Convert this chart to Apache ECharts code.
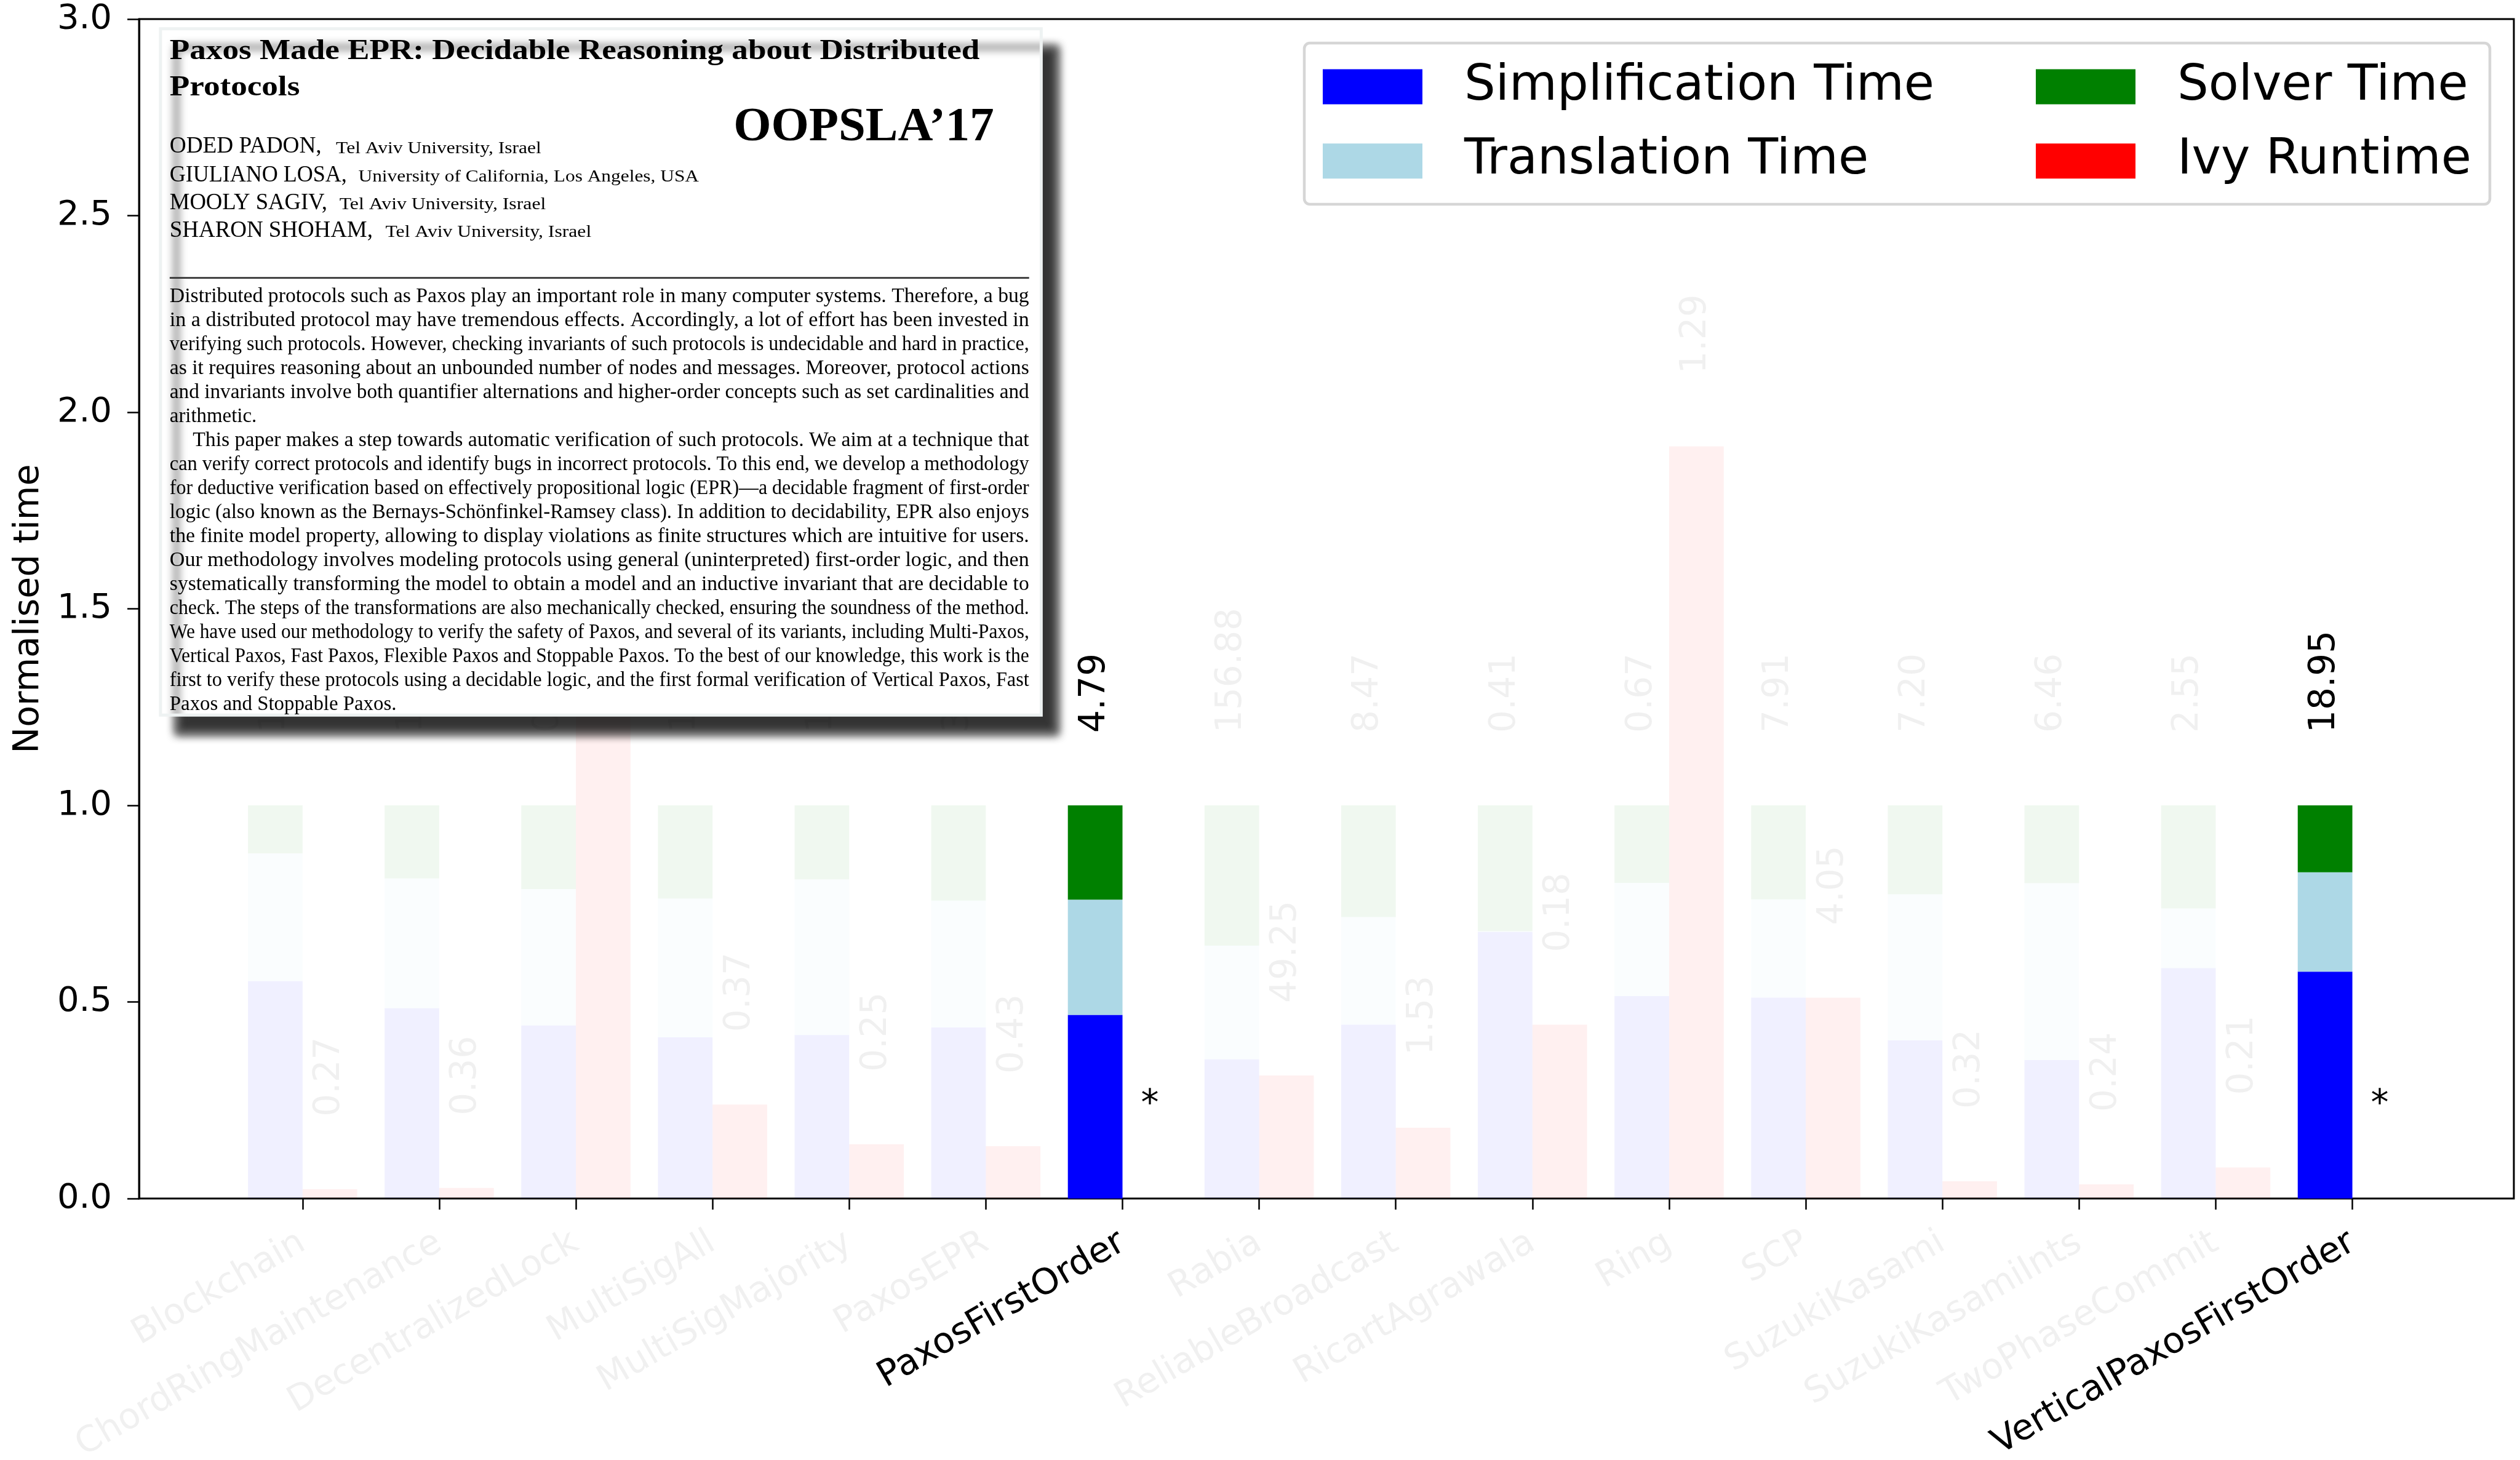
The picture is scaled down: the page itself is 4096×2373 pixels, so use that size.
<!DOCTYPE html>
<html>
<head>
<meta charset="utf-8">
<title>Normalised time</title>
<script src="https://cdn.jsdelivr.net/npm/echarts@6/dist/echarts.min.js"></script>
<style>
  html, body { margin: 0; padding: 0; background: #fff; }
  #chart { width: 4096px; height: 2373px; }
</style>
</head>
<body>
<div id="chart"></div>
<script>
// ---- data ----
const categories = ['Blockchain', 'ChordRingMaintenance', 'DecentralizedLock', 'MultiSigAll',
  'MultiSigMajority', 'PaxosEPR', 'PaxosFirstOrder', 'Rabia', 'ReliableBroadcast',
  'RicartAgrawala', 'Ring', 'SCP', 'SuzukiKasami', 'SuzukiKasamiInts', 'TwoPhaseCommit',
  'VerticalPaxosFirstOrder'];
const highlighted = [false, false, false, false, false, false, true, false, false,
  false, false, false, false, false, false, true];

// stacked shares of the tool's time (sum to 1)
const simplificationTime = [0.553, 0.484, 0.440, 0.410, 0.416, 0.435, 0.467, 0.354, 0.442,
  0.678, 0.515, 0.511, 0.402, 0.352, 0.586, 0.577];
const translationTime = [0.325, 0.330, 0.347, 0.353, 0.396, 0.323, 0.293, 0.289, 0.274,
  0.002, 0.288, 0.250, 0.372, 0.450, 0.152, 0.253];
const solverTime = [0.122, 0.186, 0.213, 0.237, 0.188, 0.242, 0.240, 0.357, 0.284,
  0.320, 0.197, 0.239, 0.226, 0.198, 0.262, 0.170];
// Ivy runtime relative to the tool's total (null = no Ivy result, marked with *)
const ivyRuntime = [0.024, 0.027, 1.60, 0.239, 0.138, 0.133, null, 0.313, 0.180,
  0.442, 1.913, 0.511, 0.044, 0.036, 0.079, null];
// absolute times written above the bars
const totalSeconds = [11.31, 13.41, 0.58, 1.51, 1.81, 3.23, 4.79, 156.88, 8.47,
  0.41, 0.67, 7.91, 7.20, 6.46, 2.55, 18.95];
const ivySeconds = [0.27, 0.36, 0.93, 0.37, 0.25, 0.43, null, 49.25, 1.53,
  0.18, 1.29, 4.05, 0.32, 0.24, 0.21, null];

const yMin = 0, yMax = 3, yStep = 0.5;

// inset (paper header picture)
const insetTitle = ['Paxos Made EPR: Decidable Reasoning about Distributed', 'Protocols'];
const insetVenue = 'OOPSLA\u201917';
const insetAuthors = [
  ['ODED PADON,', 'Tel Aviv University, Israel'],
  ['GIULIANO LOSA,', 'University of California, Los Angeles, USA'],
  ['MOOLY SAGIV,', 'Tel Aviv University, Israel'],
  ['SHARON SHOHAM,', 'Tel Aviv University, Israel']
];
const insetAbstract = [
  'Distributed protocols such as Paxos play an important role in many computer systems. Therefore, a bug',
  'in a distributed protocol may have tremendous effects. Accordingly, a lot of effort has been invested in',
  'verifying such protocols. However, checking invariants of such protocols is undecidable and hard in practice,',
  'as it requires reasoning about an unbounded number of nodes and messages. Moreover, protocol actions',
  'and invariants involve both quantifier alternations and higher-order concepts such as set cardinalities and',
  'arithmetic.',
  'This paper makes a step towards automatic verification of such protocols. We aim at a technique that',
  'can verify correct protocols and identify bugs in incorrect protocols. To this end, we develop a methodology',
  'for deductive verification based on effectively propositional logic (EPR)\u2014a decidable fragment of first-order',
  'logic (also known as the Bernays-Sch\u00f6nfinkel-Ramsey class). In addition to decidability, EPR also enjoys',
  'the finite model property, allowing to display violations as finite structures which are intuitive for users.',
  'Our methodology involves modeling protocols using general (uninterpreted) first-order logic, and then',
  'systematically transforming the model to obtain a model and an inductive invariant that are decidable to',
  'check. The steps of the transformations are also mechanically checked, ensuring the soundness of the method.',
  'We have used our methodology to verify the safety of Paxos, and several of its variants, including Multi-Paxos,',
  'Vertical Paxos, Fast Paxos, Flexible Paxos and Stoppable Paxos. To the best of our knowledge, this work is the',
  'first to verify these protocols using a decidable logic, and the first formal verification of Vertical Paxos, Fast',
  'Paxos and Stoppable Paxos.'
];
const abstractParaEnds = [5, 17];
const abstractIndented = [6];

// ---- styling ----
const S = 0.935;            // reference px -> page px
const FONT = 'DejaVu Sans';
const SERIF = '"Liberation Serif", "DejaVu Serif", serif';
const BLUE = [0, 0, 255], LIGHTBLUE = [173, 216, 230], GREEN = [0, 128, 0], RED = [255, 0, 0];
const FADE = 0.06;
const FAINT_TEXT = 'rgba(0,0,0,0.06)';
const BAR_W = 88.8;

// plot frame (matplotlib-like spines, wider than the category band)
const FRAME = { left: 226, right: 4086, top: 31, bottom: 1948 };
const BAND = { left: 380.75, right: 3934.6 };

function rgba(c, a) { return 'rgba(' + c[0] + ',' + c[1] + ',' + c[2] + ',' + a + ')'; }

let chart = echarts.init(document.getElementById('chart'), null, { renderer: 'canvas' });

function stackItems(values, color, withLabel) {
  return values.map(function (v, i) {
    let item = {
      value: v,
      itemStyle: { color: rgba(color, highlighted[i] ? 1 : FADE) }
    };
    if (withLabel) {
      item.label = {
        show: true, position: 'top', distance: 118, rotate: 90,
        align: 'left', verticalAlign: 'middle',
        fontFamily: FONT, fontSize: 58,
        color: highlighted[i] ? '#000' : FAINT_TEXT,
        formatter: totalSeconds[i].toFixed(2)
      };
    }
    return item;
  });
}

function ivyItems() {
  return ivyRuntime.map(function (v, i) {
    if (v === null) {
      // no Ivy number: asterisk in place of the bar
      return {
        value: 0,
        itemStyle: { color: 'rgba(0,0,0,0)' },
        label: {
          show: true, position: 'top', distance: 122, rotate: 0,
          align: 'center', verticalAlign: 'bottom',
          fontFamily: FONT, fontSize: 58, color: '#000', formatter: '*'
        }
      };
    }
    return {
      value: v,
      itemStyle: { color: rgba(RED, highlighted[i] ? 1 : FADE) },
      label: {
        show: true, position: 'top', distance: 118, rotate: 90,
        align: 'left', verticalAlign: 'middle',
        fontFamily: FONT, fontSize: 58,
        color: highlighted[i] ? '#000' : FAINT_TEXT,
        formatter: ivySeconds[i].toFixed(2)
      }
    };
  });
}

// ---- inset picture built from text lines ----
let measureCtx = document.createElement('canvas').getContext('2d');
function textWidth(str, font) {
  measureCtx.font = font;
  return measureCtx.measureText(str).width;
}
function textEl(str, x, baseline, size, weight, scaleX) {
  let font = weight + ' ' + size + 'px ' + SERIF;
  return {
    type: 'text', z: 12,
    x: x, y: baseline - 0.3 * size, scaleX: scaleX, originX: 0, originY: 0,
    style: {
      text: str, font: font, fill: '#000',
      align: 'left', verticalAlign: 'middle',
      textAlign: 'left', textVerticalAlign: 'middle'
    }
  };
}
function fitted(str, x, baseline, size, weight, targetW) {
  let w = textWidth(str, weight + ' ' + size + 'px ' + SERIF);
  return textEl(str, x, baseline, size, weight, targetW / w);
}

function buildInset() {
  let els = [];
  els.push({
    type: 'rect', z: 10,
    shape: { x: 279 * S, y: 50 * S, width: 1531 * S, height: 1193 * S },
    style: {
      fill: '#fff', stroke: '#eef2f2', lineWidth: 5,
      shadowBlur: 14, shadowOffsetX: 26, shadowOffsetY: 30, shadowColor: 'rgba(0,0,0,0.8)'
    }
  });
  // title
  let tSize = 50 * S;
  let tW = textWidth(insetTitle[0], 'bold ' + tSize + 'px ' + SERIF);
  let tScale = 1408 * S / tW;
  els.push(textEl(insetTitle[0], 295 * S, 105 * S, tSize, 'bold', tScale));
  els.push(textEl(insetTitle[1], 295 * S, 168 * S, tSize, 'bold', tScale));
  // venue
  els.push(fitted(insetVenue, 1275 * S, 247 * S, 83 * S, 'bold', 453 * S));
  // authors
  const nameX = 295, nameW = [264, 308, 274, 353];
  const affX = [584, 623, 590, 670], affW = [357, 592, 359, 358];
  const authBase = [267, 317, 365, 413];
  insetAuthors.forEach(function (a, k) {
    els.push(fitted(a[0], nameX * S, authBase[k] * S, 41 * S, 'normal', nameW[k] * S));
    els.push(fitted(a[1], affX[k] * S, authBase[k] * S, 29 * S, 'normal', affW[k] * S));
  });
  // rule
  els.push({
    type: 'line', z: 12,
    shape: { x1: 295 * S, y1: 483 * S, x2: 1789 * S, y2: 483 * S },
    style: { stroke: '#333', lineWidth: 3 * S }
  });
  // abstract (justified lines)
  let aSize = 36 * S;
  let aFont = 'normal ' + aSize + 'px ' + SERIF;
  let scales = [];
  insetAbstract.forEach(function (line, k) {
    if (abstractParaEnds.indexOf(k) < 0) {
      let x0 = abstractIndented.indexOf(k) >= 0 ? 335 : 295;
      scales.push((1789 - x0) * S / textWidth(line, aFont));
    }
  });
  let meanScale = scales.reduce(function (a, b) { return a + b; }, 0) / scales.length;
  insetAbstract.forEach(function (line, k) {
    let x0 = abstractIndented.indexOf(k) >= 0 ? 335 : 295;
    let base = (527 + 41.7 * k) * S;
    if (abstractParaEnds.indexOf(k) >= 0) {
      els.push(textEl(line, x0 * S, base, aSize, 'normal', meanScale));
    } else {
      els.push(fitted(line, x0 * S, base, aSize, 'normal', (1789 - x0) * S));
    }
  });
  return els;
}

let graphicEls = buildInset();
// plot frame
graphicEls.push({
  type: 'rect', z: 1,
  shape: { x: FRAME.left, y: FRAME.top, width: FRAME.right - FRAME.left, height: FRAME.bottom - FRAME.top },
  style: { fill: 'none', stroke: '#000', lineWidth: 3 }
});
// legend frame
graphicEls.push({
  type: 'rect', z: 3,
  shape: { x: 2120, y: 70, width: 1927, height: 262, r: 9 },
  style: { fill: 'rgba(255,255,255,0.8)', stroke: '#d6d6d6', lineWidth: 4.5 }
});

const legendText = {
  fontFamily: FONT, fontSize: 80, color: '#000', padding: [0, 0, 0, 63]
};

let option = {
  animation: false,
  backgroundColor: '#fff',
  textStyle: { fontFamily: FONT },
  grid: {
    left: BAND.left, right: 4096 - BAND.right, top: FRAME.top, bottom: 2373 - FRAME.bottom,
    show: false, containLabel: false, outerBoundsMode: 'none'
  },
  legend: [
    {
      data: ['Simplification Time', 'Translation Time'],
      orient: 'vertical', left: 2150, top: 101,
      icon: 'rect', itemWidth: 162, itemHeight: 57, itemGap: 40.7,
      selectedMode: false, textStyle: legendText, padding: 0
    },
    {
      data: ['Solver Time', 'Ivy Runtime'],
      orient: 'vertical', left: 3309, top: 101,
      icon: 'rect', itemWidth: 162, itemHeight: 57, itemGap: 40.7,
      selectedMode: false, textStyle: legendText, padding: 0
    }
  ],
  xAxis: {
    type: 'category',
    data: categories,
    boundaryGap: true,
    splitLine: { show: false },
    axisLine: { show: false },
    axisTick: {
      show: true, alignWithLabel: true, interval: 0, length: 18,
      lineStyle: { color: '#000', width: 2.5 }
    },
    axisLabel: {
      show: true, interval: 0, rotate: 30, margin: 68,
      formatter: function (v, i) {
        return '{' + (highlighted[i] ? 'h' : 'f') + '|' + v + '}';
      },
      rich: {
        h: { color: '#000', fontFamily: FONT, fontSize: 58 },
        f: { color: FAINT_TEXT, fontFamily: FONT, fontSize: 58 }
      }
    }
  },
  yAxis: {
    type: 'value',
    min: yMin, max: yMax, interval: yStep,
    offset: BAND.left - FRAME.left,
    name: 'Normalised time', nameLocation: 'middle', nameGap: 150,
    nameTextStyle: { fontFamily: FONT, fontSize: 57, color: '#000' },
    splitLine: { show: false },
    axisLine: { show: true, onZero: false, lineStyle: { color: '#000', width: 3 } },
    axisTick: { show: true, length: 19, lineStyle: { color: '#000', width: 2.5 } },
    axisLabel: {
      margin: 44, color: '#000', fontFamily: FONT, fontSize: 56,
      formatter: function (v) { return v.toFixed(1); }
    }
  },
  graphic: { elements: graphicEls },
  series: [
    {
      name: 'Simplification Time', type: 'bar', stack: 'tool',
      barWidth: BAR_W, barGap: '0%',
      itemStyle: { color: rgba(BLUE, 1) },
      data: stackItems(simplificationTime, BLUE, false)
    },
    {
      name: 'Translation Time', type: 'bar', stack: 'tool',
      barWidth: BAR_W, barGap: '0%',
      itemStyle: { color: rgba(LIGHTBLUE, 1) },
      data: stackItems(translationTime, LIGHTBLUE, false)
    },
    {
      name: 'Solver Time', type: 'bar', stack: 'tool',
      barWidth: BAR_W, barGap: '0%',
      itemStyle: { color: rgba(GREEN, 1) },
      data: stackItems(solverTime, GREEN, true)
    },
    {
      name: 'Ivy Runtime', type: 'bar',
      barWidth: BAR_W, barGap: '0%',
      itemStyle: { color: rgba(RED, 1) },
      data: ivyItems()
    }
  ]
};

chart.setOption(option);

window.onresize = function () {
  chart.resize();
};
</script>
</body>
</html>
